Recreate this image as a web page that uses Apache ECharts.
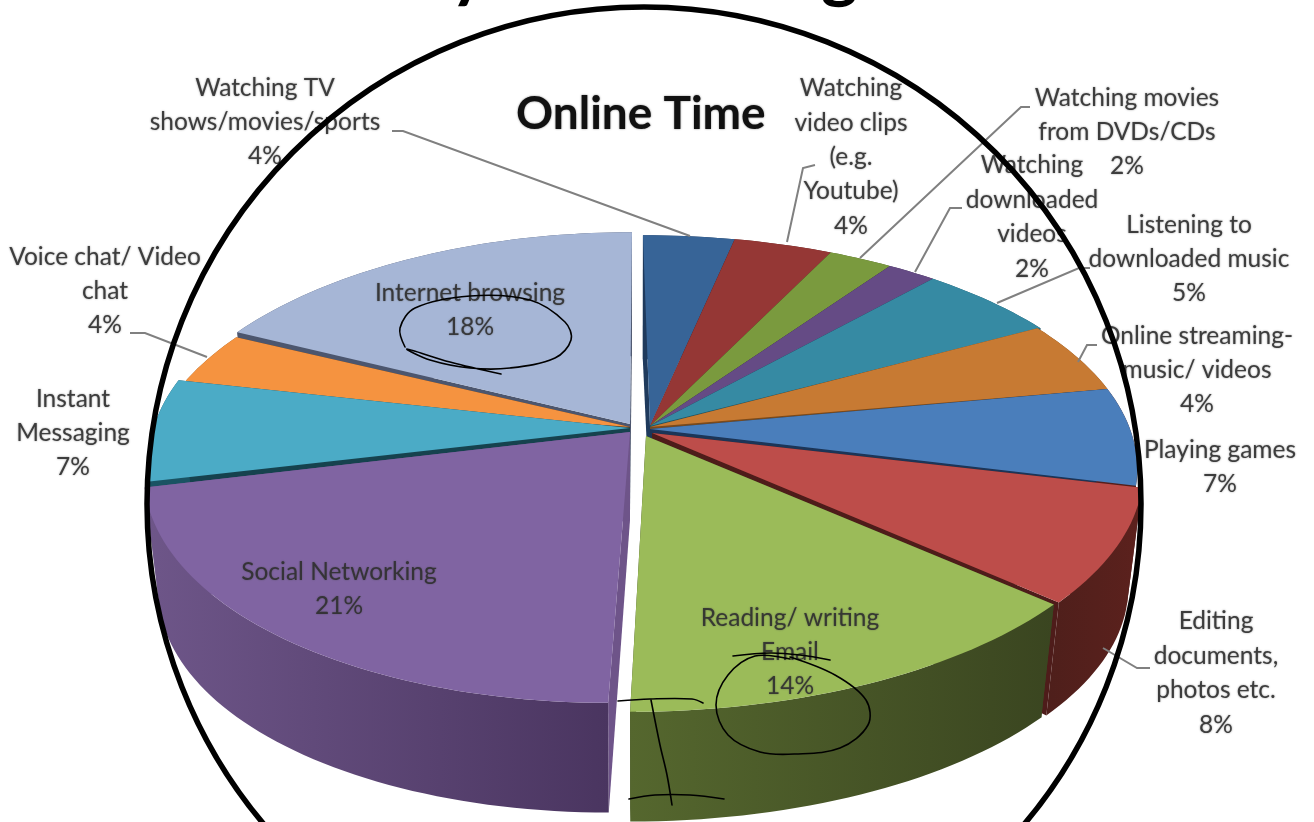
<!DOCTYPE html>
<html><head><meta charset="utf-8">
<style>html,body{margin:0;padding:0;background:#fff}#c{width:1314px;height:822px}</style>
<script src="https://cdn.jsdelivr.net/npm/echarts@6/dist/echarts.min.js"></script>
</head><body><div id="c"></div>
<script>
const labelLines = [
  'Watching TV\nshows/movies/sports',
  'Watching\nvideo clips\n(e.g.\nYoutube)',
  'Watching movies\nfrom DVDs/CDs',
  'Watching\ndownloaded\nvideos',
  'Listening to\ndownloaded music',
  'Online streaming-\nmusic/ videos',
  'Playing games',
  'Editing\ndocuments,\nphotos etc.',
  'Reading/ writing\nEmail',
  'Social Networking',
  'Instant\nMessaging',
  'Voice chat/ Video\nchat',
  'Internet browsing'
];
const shares = [4, 4, 2, 2, 5, 4, 7, 8, 14, 21, 7, 4, 18];

// styling and layout, kept apart from the data
const topColors = ['#376497','#953735','#7a9a3e','#654b85','#368aa3','#c77a33','#4a7ebb','#bd4d4a','#9bbb59','#8064a2','#4babc6','#f59340','#a6b6d6'];
const wallColors = [
  ['#1f3a5c','#1f3a5c'],['#5c201e','#5c201e'],['#4a5f24','#4a5f24'],['#3c2c52','#3c2c52'],
  ['#1d5566','#1d5566'],['#7a4a1c','#7a4a1c'],['#5a1f1d','#4f1f1b','#1c3557'],['#4e1f1b','#5c211d','#4e1c1a'],
  ['#55672e','#3a4520'],['#6e5689','#4a3560','#6e5489'],['#1a5363','#1a5363','#16424e'],['#8f5623','#8f5623','#5a3a1c'],['#4c566e','#4c566e']
];
const apexPoints = [
  [650,426],[650,426],[650,426],[650,426],[650,426],[650,427],[650,429],[652,433],[646,436],
  [630,432],[630,428],[630,427],[630,424]
];
const rimShifts = [
  [0,3],[0,3],[0,3],[0,3],[0,3],[-3,3],[-3,3],[3,5],[-2,7],
  [-11,-2],[-9,-8],[-12,5],[-11,0]
];
const rimSkews = [-0.023,-0.023,-0.023,-0.023,-0.023,-0.023,-0.023,-0.023,-0.023,-0.07,-0.023,-0.023,-0.023];
// drawing correction for the picture's perspective, in degrees, one per slice boundary
const boundaryNudges = [0,-2,-3,-1.5,-2,-0.7,3,2,1,0,0,0,2,0];
const labelCenters = [
  [265,122],[851,157],[1127,132],[1032,217],[1189,259],[1197,370],[1220,467],[1216,673],
  [790,652],[339,589],[73,433],[105,291],[470,310]
];
const leaderLines = [
  [[392,131],[403,131],[690,236]],
  [[815,165],[803,168],[787,242]],
  [[1030,107],[1021,107],[860,258]],
  [[962,208],[950,208],[915,272]],
  [[1090,268],[1079,268],[997,303]],
  [[1097,345],[1087,345],[1078,362]],
  null,
  [[1150,668],[1137,668],[1103,648]],
  null,
  null,
  null,
  [[130,333],[145,333],[207,357]],
  null
];
const inkStrokes = [
  [[405,347],[400,328],[415,308],[470,296],[530,300],[565,322],[571,340],[555,358],[510,368],[470,368],[430,360],[407,349],[450,362],[501,374]],
  [[733,656],[770,653],[800,655],[830,660]],
  [[790,659],[755,656],[728,675],[716,705],[728,735],[760,752],[795,754],[840,748],[868,725],[866,700],[835,675],[790,657]],
  [[618,701],[650,699],[692,699],[703,703]],
  [[651,700],[660,745],[667,775],[672,805]],
  [[629,799],[655,795],[690,795],[724,799]]
];
const RIM = {cx:638.4, persp:0.163, yR:230, xRight:496, xLeft:474, depth:118, shrink:0.97, apexDepth:88};

function rim(angle, shift, skew, lower){
  const s = Math.sin(angle), c = Math.cos(angle), w = 1 + RIM.persp * c;
  const yp = -RIM.yR * c / w;
  const xp = (s >= 0 ? RIM.xRight : RIM.xLeft) * s / w + skew * yp;
  const k = lower ? RIM.shrink : 1;
  return [RIM.cx + shift[0] + k * xp, 430 + shift[1] + k * yp + (lower ? RIM.depth : 0)];
}
function arcPoints(a0, a1, shift, skew, lower){
  const pts = [], n = Math.max(2, Math.ceil((a1 - a0) / 0.025));
  for (let j = 0; j <= n; j++) pts.push(rim(a0 + (a1 - a0) * j / n, shift, skew, lower));
  return pts;
}
const total = shares.reduce((a, b) => a + b, 0);
const cumulative = shares.reduce((acc, v) => { acc.push(acc[acc.length - 1] + v); return acc; }, [0]);
const boundaryAngle = j => (cumulative[j] / total * 360 + boundaryNudges[j]) * Math.PI / 180;

function renderSlice(params, api){
  const i = params.dataIndex;
  const a0 = boundaryAngle(i), a1 = boundaryAngle(i + 1);
  const shift = rimShifts[i], apex = apexPoints[i], skew = rimSkews[i];
  const apexLow = [apex[0], apex[1] + RIM.apexDepth];
  const base = Math.round((-Math.cos((a0 + a1) / 2) + 1) * 100) * 3;
  const top = arcPoints(a0, a1, shift, skew, false), low = arcPoints(a0, a1, shift, skew, true);
  const wallFill = new echarts.graphic.LinearGradient(0, 0, 1, 0, [
    {offset:0, color:wallColors[i][0]}, {offset:1, color:wallColors[i][1]}
  ]);
  const flat = wallColors[i][2] || wallColors[i][1];
  const children = [
    {type:'polygon', z2:base, shape:{points:[apex, top[0], low[0], apexLow]}, style:{fill:flat}},
    {type:'polygon', z2:base, shape:{points:[apex, top[top.length-1], low[low.length-1], apexLow]}, style:{fill:flat}},
    {type:'polygon', z2:base+1, shape:{points:top.concat(low.slice().reverse())}, style:{fill:wallFill}},
    {type:'polygon', z2:base+2, shape:{points:[apex].concat(top)}, style:{fill:topColors[i]}},
    {type:'text', z2:2000, x:labelCenters[i][0], y:labelCenters[i][1], style:{
      text: labelLines[i] + '\n' + api.value(1) + '%',
      fontFamily:'Lato', fontSize:24.5, lineHeight:34.4, align:'center', verticalAlign:'middle',
      fill:'rgba(48,48,48,0.9)', textShadowColor:'rgba(60,60,60,0.6)', textShadowBlur:2
    }}
  ];
  if (leaderLines[i]) children.push({type:'polyline', z2:1000, shape:{points:leaderLines[i]}, style:{stroke:'#808080', lineWidth:2, fill:null}});
  return {type:'group', children};
}

const chart = echarts.init(document.getElementById('c'), null, {renderer:'canvas'});
chart.setOption({
  animation:false,
  backgroundColor:'#fff',
  series:[{
    type:'custom', coordinateSystem:'none', silent:true, z:2,
    data: shares.map((v, i) => [i, v]),
    renderItem: renderSlice
  }],
  graphic:{elements:[
    {type:'text', z:90, x:516, y:91, style:{text:'Online Time', fontFamily:'Lato', fontWeight:'bold', fontSize:46, fill:'#111', textShadowColor:'rgba(0,0,0,0.5)', textShadowBlur:2}},
    {type:'text', z:90, x:450, y:-64, style:{text:'y', fontFamily:'Lato', fontWeight:'bold', fontSize:70, fill:'#000'}},
    {type:'text', z:90, x:821, y:-64, style:{text:'g', fontFamily:'Lato', fontWeight:'bold', fontSize:70, fill:'#000'}},
    {type:'circle', z:100, shape:{cx:644, cy:504, r:497}, style:{stroke:'#000', lineWidth:5.5, fill:null}}
  ].concat(inkStrokes.map(points => ({
    type:'polyline', z:101, shape:{points, smooth:0.35},
    style:{stroke:'#000', lineWidth:1.6, fill:null, lineCap:'round'}
  })))}
});
</script></body></html>
